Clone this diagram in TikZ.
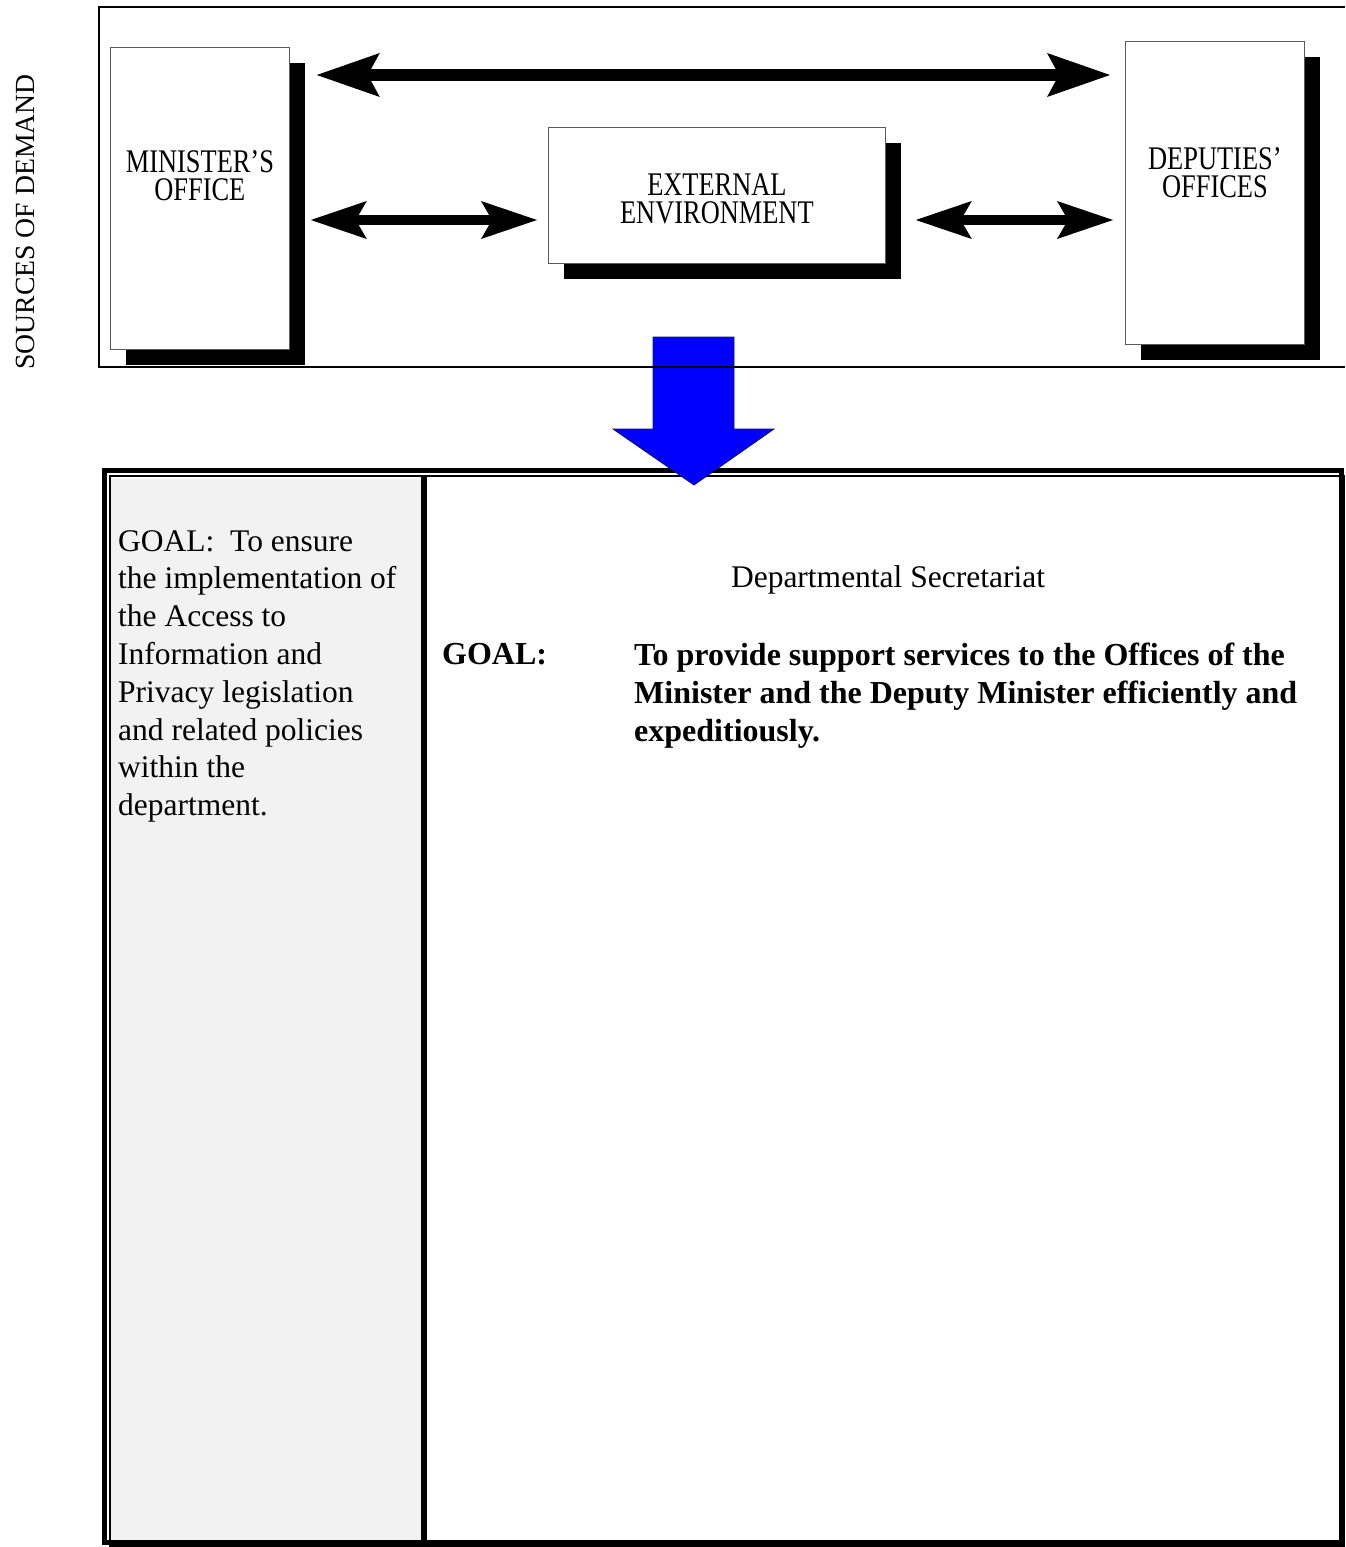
\documentclass[tikz,border=0pt]{standalone}
\usepackage{fontspec}
\setmainfont{Liberation Serif}
\newfontfamily\boxfont[FakeStretch=0.8]{Liberation Serif}
\usepackage{tikz}
\usepackage{xcolor}
\usetikzlibrary{arrows.meta,positioning,shadows}
\definecolor{ink}{RGB}{0,0,0}
\definecolor{edge}{RGB}{90,90,90}
\definecolor{panel}{RGB}{242,242,242}
\definecolor{flowblue}{RGB}{0,0,255}
\definecolor{flowedge}{RGB}{20,20,90}
\tikzset{
  frame/.style={line width=2.5pt,draw=ink},
  officebox/.style={draw=edge,line width=0.8pt,fill=white,inner sep=0pt,
    drop shadow={shadow xshift=16pt,shadow yshift=-16pt,fill=ink,opacity=1}},
  boxtext/.style={font=\boxfont\fontsize{33}{28}\selectfont,align=center,inner sep=0pt},
  toparrow/.style={{Stealth[length=63pt,width=44pt,inset=12pt,line width=0pt]}-{Stealth[length=63pt,width=44pt,inset=12pt,line width=0pt]},line width=12pt,draw=ink},
  midarrow/.style={{Stealth[length=56pt,width=38pt,inset=11pt,line width=0pt]}-{Stealth[length=56pt,width=38pt,inset=11pt,line width=0pt]},line width=10pt,draw=ink},
  flowarrow/.style={fill=flowblue,draw=flowedge,line width=0.8pt},
  goaltext/.style={font=\fontsize{31.5}{37.8}\selectfont,align=left,inner sep=0pt,text=ink},
  boldgoal/.style={goaltext,font=\fontsize{32}{37.8}\selectfont\bfseries},
  sidetext/.style={font=\fontsize{27.7}{30}\selectfont,inner sep=0pt,rotate=90,text=ink}
}

\begin{document}
\begin{tikzpicture}[x=1pt,y=-1pt]
  \useasboundingbox (0,0) rectangle (1345,1547);

  % table of goals
  \fill[panel] (111,478) rectangle (421,1540);
  \draw[line width=5pt,draw=ink] (104.5,470) rectangle (1341,1542.5);
  \draw[line width=1.5pt,draw=ink] (110,476) rectangle (1344.5,1546);
  \draw[line width=6pt,draw=ink] (424,476) -- (424,1541);

  \node[goaltext,anchor=north west] (accessgoal) at (118,530) {GOAL:\ \ To ensure\\the implementation of\\the Access to\\Information and\\Privacy legislation\\and related policies\\within the\\department.};
  \node[goaltext] (unitname) at (888,580) {Departmental Secretariat};
  \node[boldgoal,anchor=north west] (goallabel) at (442,643) {GOAL:};
  \node[boldgoal,anchor=north west] (unitgoal) at (634,643) {To provide support services to the Offices of the\\Minister and the Deputy Minister efficiently and\\expeditiously.};

  % demand flows down
  \draw[flowarrow] (653,337) -- (734,337) -- (734,429) -- (774,429) -- (694,485) -- (613,429) -- (653,429) -- cycle;

  % sources of demand
  \draw[frame] (1345,7) -- (99,7) -- (99,367) -- (1345,367);
  \node[sidetext] (sources) at (25,222) {SOURCES OF DEMAND};

  \node[officebox,anchor=north west,minimum width=179pt,minimum height=302pt] (minister) at (110,47) {};
  \node[boxtext] (ministertxt) at ([yshift=-129pt]minister.north) {MINISTER’S\\OFFICE};

  \node[officebox,anchor=north west,minimum width=337pt,minimum height=136pt] (external) at (548,127) {};
  \node[boxtext] (externaltxt) at ([yshift=-3pt]external.center) {EXTERNAL\\ENVIRONMENT};

  \node[officebox,anchor=north west,minimum width=179pt,minimum height=303pt] (deputies) at (1125,41) {};
  \node[boxtext] (deputiestxt) at ([yshift=-132pt]deputies.north) {DEPUTIES’\\OFFICES};

  \draw[toparrow,shorten <=27pt,shorten >=15pt] (minister.east |- 0,75) -- (deputies.west |- 0,75);
  \draw[midarrow,shorten <=21pt,shorten >=11pt] (minister.east |- 0,220) -- (external.west |- 0,220);
  \draw[midarrow,shorten <=30pt,shorten >=12pt] (external.east |- 0,220) -- (deputies.west |- 0,220);
\end{tikzpicture}
\end{document}
